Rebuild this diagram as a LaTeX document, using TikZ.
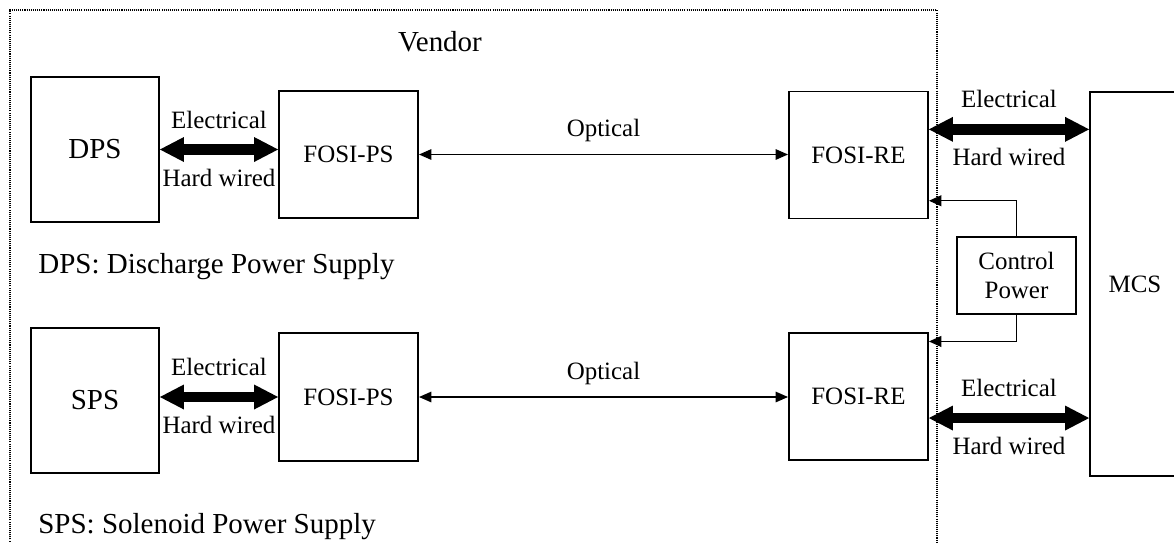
\documentclass[tikz,border=0pt]{standalone}
\usepackage{fontspec}
\setmainfont{Liberation Serif}
\usetikzlibrary{arrows.meta}
\usetikzlibrary{positioning}
\tikzset{blk/.style={draw, line width=1.1pt, inner sep=0pt,
font=\fontsize{14.2}{17}\selectfont},
lbl/.style={inner sep=0pt, font=\fontsize{14.2}{17}\selectfont},
big/.style={inner sep=0pt, font=\fontsize{16.5}{20}\selectfont},
upper/.style={lbl, midway, yshift=0.6cm},
lower/.style={lbl, midway, yshift=-0.56cm},
wire/.style={line width=6.2pt,
{Triangle[length=0.48cm, width=0.5cm, line width=0pt 0 0]}-{Triangle[length=0.48cm, width=0.5cm, line width=0pt 0 0]}},
fibre/.style={line width=0.9pt,
{Triangle[length=0.25cm, width=0.21cm]}-{Triangle[length=0.25cm, width=0.21cm]}},
feed/.style={line width=0.6pt, -{Triangle[length=0.25cm, width=0.22cm]}},
border/.style={line width=0.7pt, dash pattern=on 0.6pt off 0.6pt}}

\begin{document}
\begin{tikzpicture}[x=0.02cm, y=-0.02cm]
	\useasboundingbox (0,0) rectangle (1174,542);
	\clip (0,0) rectangle (1174,542);
	% vendor side
	\draw[border] (10,550) |- (937,10) -- (937,550);
	\node[big] (vendor) at (440,42) {Vendor};
	\node[blk, big, minimum width=2.56cm, minimum height=2.9cm] (dps) at (95,149.5) {DPS};
	\node[blk, minimum width=2.78cm, minimum height=2.54cm] (fps1) at (348.5,154.5) {FOSI-PS};
	\node[blk, minimum width=2.78cm, minimum height=2.54cm] (fre1) at (858.5,155) {FOSI-RE};
	\node[big, anchor=west] (dpsnote) at (38,267) {DPS: Discharge Power Supply};
	\node[blk, big, minimum width=2.56cm, minimum height=2.9cm] (sps) at (95,400.5) {SPS};
	\node[blk, minimum width=2.78cm, minimum height=2.56cm] (fps2) at (348.5,397) {FOSI-PS};
	\node[blk, minimum width=2.78cm, minimum height=2.54cm] (fre2) at (858.5,396.5) {FOSI-RE};
	\node[big, anchor=west] (spsnote) at (38,527) {SPS: Solenoid Power Supply};
	% machine side
	\node[blk, minimum width=1.8cm, minimum height=7.68cm] (mcs) at (1135,284) {MCS};
	\node[blk, line width=0.9pt, minimum width=2.38cm, minimum height=1.54cm, align=center] (cp) at (1016.5,275.5) {Control\\Power};
	% links
	\draw[wire] (dps.east) -- (dps.east -| fps1.west)
		node[upper] {Electrical} node[lower] {Hard wired};
	\draw[wire] (fps2.west -| sps.east) -- (fps2.west)
		node[upper] {Electrical} node[lower] {Hard wired};
	\draw[fibre] (fps1.east) -- (fps1.east -| fre1.west) node[lbl, midway, yshift=0.48cm] {Optical};
	\draw[fibre] (fps2.east) -- (fps2.east -| fre2.west) node[lbl, midway, yshift=0.48cm] {Optical};
	\draw[wire] (fre1.20) -- (fre1.20 -| mcs.west)
		node[upper] {Electrical} node[lower] {Hard wired};
	\draw[wire] (fre2.-17) -- (fre2.-17 -| mcs.west)
		node[upper] {Electrical} node[lower] {Hard wired};
	\draw[feed] (cp.north) |- (fre1.-33);
	\draw[feed] (cp.south) |- (fre2.38);
\end{tikzpicture}
\end{document}
